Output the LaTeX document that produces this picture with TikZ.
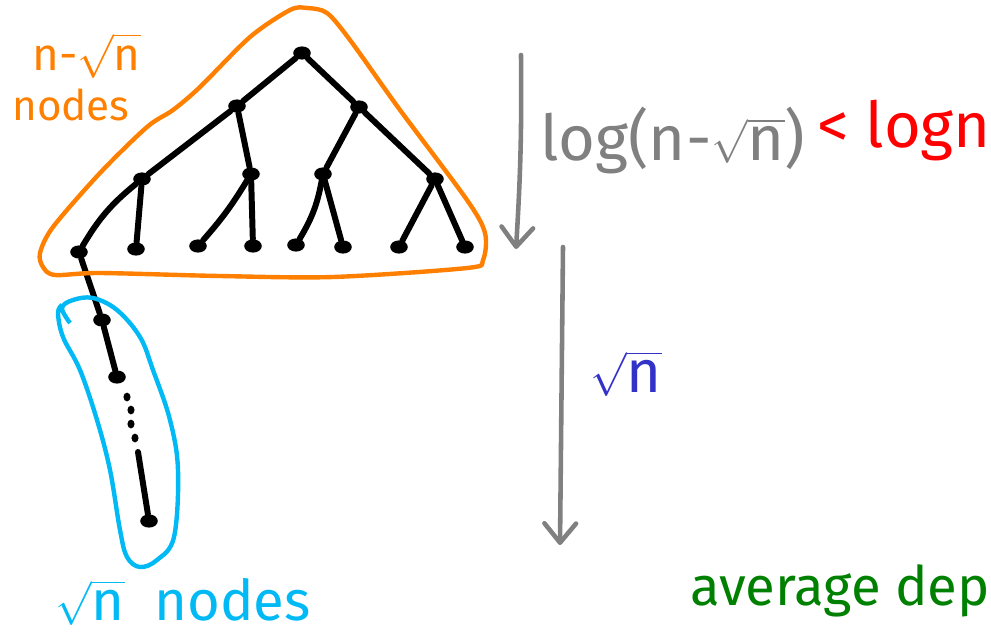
\documentclass[tikz,border=0pt]{standalone}
\usepackage{fontspec}
\setmainfont{Fira Sans}
\usetikzlibrary{arrows.meta,shapes.geometric}
\definecolor{hOrange}{RGB}{255,128,0}
\definecolor{hCyan}{RGB}{0,185,245}
\definecolor{hBlue}{RGB}{50,50,200}
\definecolor{hRed}{RGB}{255,0,0}
\definecolor{hGreen}{RGB}{0,128,0}
\definecolor{hGray}{RGB}{128,128,128}
\tikzset{
  dot/.style={ellipse,fill=black,inner sep=0pt,minimum width=10pt,minimum height=7.5pt},
  smalldot/.style={ellipse,fill=black,inner sep=0pt,minimum width=4pt,minimum height=5pt},
  edge/.style={line width=3.4pt,line cap=round,black},
  blob/.style={line width=2.5pt,line join=round},
  garrow/.style={line width=2.6pt,hGray,line cap=round,-{Straight Barb[length=11pt,width=18pt,line width=2.6pt,round]}},
  hand/.style={inner sep=0pt,anchor=base west}
}
\begin{document}
\begin{tikzpicture}[x=0.02cm,y=-0.02cm]
\useasboundingbox (0,0) rectangle (991,633);
% tree nodes
\node[dot] (r) at (302,53) {};
\node[dot] (a) at (237,106) {};
\node[dot] (b) at (359,107) {};
\node[dot] (aa) at (142,179) {};
\node[dot] (ab) at (251,174) {};
\node[dot] (ba) at (323,174) {};
\node[dot] (bb) at (435,179) {};
\node[dot] (l1) at (79,252) {};
\node[dot] (l2) at (136,249) {};
\node[dot] (l3) at (198,246) {};
\node[dot] (l4) at (253,246) {};
\node[dot] (l5) at (296,245) {};
\node[dot] (l6) at (343,247) {};
\node[dot] (l7) at (399,247) {};
\node[dot] (l8) at (465,247) {};
% chain
\node[dot] (c1) at (102,320) {};
\node[dot] (c2) at (117,377) {};
\node[smalldot] (d1) at (127,397) {};
\node[smalldot] (d2) at (131,410) {};
\node[smalldot] (d3) at (131,424) {};
\node[smalldot] (d4) at (135,438) {};
\coordinate (c3) at (138,452);
\node[dot] (c4) at (149,521) {};
% edges
\draw[edge] (r) -- (a);
\draw[edge] (r) -- (b);
\draw[edge] (a) -- (aa);
\draw[edge] (a) -- (ab);
\draw[edge] (b) -- (ba);
\draw[edge] (b) -- (bb);
\draw[edge] (aa) to[bend right=10] (l1);
\draw[edge] (aa) -- (l2);
\draw[edge] (ab) to[bend left=5] (l3);
\draw[edge] (ab) -- (l4);
\draw[edge] (ba) to[bend left=10] (l5);
\draw[edge] (ba) -- (l6);
\draw[edge] (bb) -- (l7);
\draw[edge] (bb) -- (l8);
\draw[edge] (l1) -- (c1);
\draw[edge] (c1) -- (c2);
\draw[edge] (c3) -- (c4);
% orange outline
\draw[blob,hOrange] plot[smooth cycle,tension=0.5] coordinates {
 (290,10) (250,37) (200,87) (173,110) (147,127) (100,173) (53,227) (40,253)
 (43,267) (55,275) (100,273) (220,276) (333,277) (467,268)
 (483,260) (485,233) (467,200) (400,110) (350,40) (327,13) (307,8)};
% cyan outline
\draw[blob,hCyan] plot[smooth,tension=0.6] coordinates {
 (70,323) (62,308) (73,300) (93,298) (117,310) (140,337) (153,370) (170,420)
 (178,470) (174,537) (157,560) (140,567) (127,557) (120,530) (110,470)
 (97,420) (80,370) (63,337) (58,313) (62,305)};
% gray arrows
\coordinate (g1s) at (521,55);
\coordinate (g1e) at (516,249);
\coordinate (g2s) at (563,247);
\coordinate (g2e) at (560,545);
\draw[garrow] (g1s) to[bend left=2] (g1e);
\draw[garrow] (g2s) -- (g2e);
% texts
\node[hand,text=hOrange,font=\fontsize{26}{28}\selectfont] (t1) at (32,70) {n-$\sqrt{\hbox{n}}$};
\node[hand,text=hOrange,font=\fontsize{24}{26}\selectfont] (t2) at (12,120) {nodes};
\node[hand,text=hGray,font=\fontsize{36}{40}\selectfont] (t3) at (540,160) {log(n-$\sqrt{\hbox{n}}$)};
\node[hand,text=hRed,font=\fontsize{36}{40}\selectfont] (t4) at (817,147) {< logn};
\node[hand,text=hBlue,font=\fontsize{34}{36}\selectfont] (t5) at (590,392) {$\sqrt{\hbox{n}}$};
\node[hand,text=hCyan,font=\fontsize{32}{34}\selectfont] (t6) at (55,620) {$\sqrt{\hbox{n}}$\ \ nodes};
\node[hand,text=hGreen,font=\fontsize{31}{33}\selectfont] (t7) at (690,605) {average dep};
\end{tikzpicture}
\end{document}
